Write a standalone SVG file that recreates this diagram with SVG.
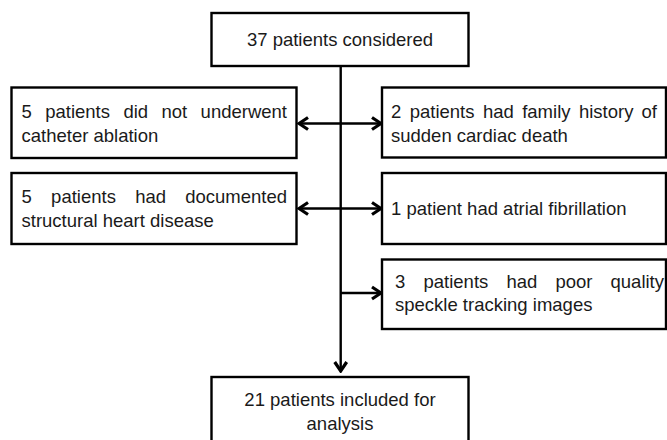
<svg xmlns="http://www.w3.org/2000/svg" width="667" height="440" viewBox="0 0 667 440">
<style>
.box{fill:#fff;stroke:#000;stroke-width:2.4}
.t{font-family:"Liberation Sans",Arial,sans-serif;font-size:18.5px;fill:#1a1a1a}
.c{text-anchor:middle}
.ln{stroke:#000;stroke-width:2.4;fill:none}
</style>
<defs>
<marker id="ah" markerUnits="userSpaceOnUse" viewBox="-12 -8 14 16" refX="0" refY="0" markerWidth="14" markerHeight="16" orient="auto-start-reverse">
<path d="M-9,-6 L0,0 L-9,6" fill="none" stroke="#000" stroke-width="3.2" stroke-linejoin="miter"/>
</marker>
</defs>
<rect width="667" height="440" fill="#fff"/>
<g id="connectors">
<line class="ln" x1="340.7" y1="66" x2="340.7" y2="371" marker-end="url(#ah)"/>
<line class="ln" x1="299" y1="123.5" x2="381" y2="123.5" marker-start="url(#ah)" marker-end="url(#ah)"/>
<line class="ln" x1="299" y1="208.5" x2="381" y2="208.5" marker-start="url(#ah)" marker-end="url(#ah)"/>
<line class="ln" x1="340.7" y1="293" x2="381" y2="293" marker-end="url(#ah)"/>
</g>
<g id="n-start">
<rect class="box" x="211.5" y="13" width="257" height="53"/>
<text class="t c" x="340" y="46">37 patients considered</text>
</g>
<g id="n-noablation">
<rect class="box" x="11.5" y="87.5" width="285" height="70.5"/>
<text class="t"><tspan x="21.5" y="118">5</tspan><tspan x="45.2" y="118">patients</tspan><tspan x="123.4" y="118">did</tspan><tspan x="161.5" y="118">not</tspan><tspan x="287" y="118" text-anchor="end">underwent</tspan></text>
<text class="t" x="21.5" y="141.5">catheter ablation</text>
</g>
<g id="n-family">
<rect class="box" x="382" y="87.5" width="284" height="70"/>
<text class="t"><tspan x="391" y="118">2</tspan><tspan x="409.7" y="118">patients</tspan><tspan x="482.9" y="118">had</tspan><tspan x="522.2" y="118">family</tspan><tspan x="578.9" y="118">history</tspan><tspan x="657" y="118" text-anchor="end">of</tspan></text>
<text class="t" x="391" y="141.5">sudden cardiac death</text>
</g>
<g id="n-structural">
<rect class="box" x="11.5" y="173" width="285" height="71"/>
<text class="t"><tspan x="21.5" y="203">5</tspan><tspan x="51.1" y="203">patients</tspan><tspan x="135.2" y="203">had</tspan><tspan x="287" y="203" text-anchor="end">documented</tspan></text>
<text class="t" x="21.5" y="227">structural heart disease</text>
</g>
<g id="n-af">
<rect class="box" x="382" y="173" width="284" height="71"/>
<text class="t" x="391" y="215">1 patient had atrial fibrillation</text>
</g>
<g id="n-speckle">
<rect class="box" x="382" y="259.5" width="284" height="69.5"/>
<text class="t"><tspan x="395" y="288">3</tspan><tspan x="423.5" y="288">patients</tspan><tspan x="506.4" y="288">had</tspan><tspan x="555.5" y="288">poor</tspan><tspan x="664" y="288" text-anchor="end">quality</tspan></text>
<text class="t" x="395" y="311">speckle tracking images</text>
</g>
<g id="n-included">
<rect class="box" x="211.5" y="377" width="257" height="70"/>
<text class="t c" x="340" y="406">21 patients included for</text>
<text class="t c" x="340" y="430">analysis</text>
</g>
</svg>
